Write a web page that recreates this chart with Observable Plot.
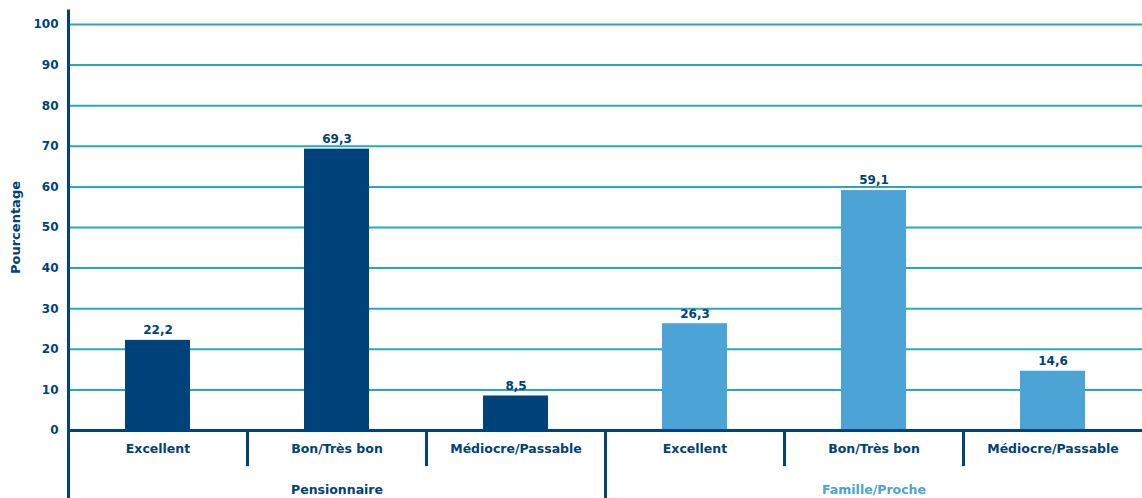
<!DOCTYPE html>
<html>
<head>
<meta charset="utf-8">
<script src="https://cdn.jsdelivr.net/npm/d3@7"></script>
<script src="https://cdn.jsdelivr.net/npm/@observablehq/plot@0.6"></script>
<style>
  html, body { margin: 0; padding: 0; background: #fff; }
  #chart svg { display: block; }
</style>
</head>
<body>
<div id="chart"></div>
<script>
const groups = ["Pensionnaire", "Famille/Proche"];
const categories = ["Excellent", "Bon/Très bon", "Médiocre/Passable"];
const pensionnaireValues = [22.2, 69.3, 8.5];
const familleValues = [26.3, 59.1, 14.6];
const yTicks = [0, 10, 20, 30, 40, 50, 60, 70, 80, 90, 100];

const navy = "#00427a";
const light = "#4ba3d6";
const teal = "#27aab8";
const groupColors = [navy, light];

const seriesValues = [pensionnaireValues, familleValues];
const data = [];
groups.forEach((g, gi) => {
  categories.forEach((c, ci) => {
    const i = gi * categories.length + ci;
    data.push({group: g, gi, category: c, i, value: seriesValues[gi][ci]});
  });
});
const n = data.length;
const boundaries = d3.range(0, n + 1);
const innerSeps = boundaries.filter(b => b > 0 && b < n && b % categories.length !== 0);
const groupSeps = boundaries.filter(b => b > 0 && b < n && b % categories.length === 0);
const groupCenters = groups.map((g, gi) => ({group: g, gi, x: gi * categories.length + categories.length / 2}));

const font = "'DejaVu Sans', sans-serif";

const chart = Plot.plot({
  width: 1142,
  height: 498,
  marginLeft: 68,
  marginRight: 0,
  marginTop: 24,
  marginBottom: 68,
  style: {fontFamily: font, fontWeight: "bold", fontSize: "12px", color: navy, background: "#fff"},
  x: {domain: [0, n], axis: null},
  y: {domain: [0, 100], ticks: yTicks, label: null, axis: null},
  marks: [
    Plot.ruleY(yTicks.filter(t => t > 0), {stroke: teal, strokeWidth: 2}),
    Plot.rectY(data, {x1: "i", x2: d => d.i + 1, y: "value", fill: d => groupColors[d.gi], insetLeft: 57, insetRight: 57}),
    Plot.ruleY([0], {stroke: navy, strokeWidth: 3}),
    Plot.ruleX([0], {y1: 103.6, y2: -17, stroke: navy, strokeWidth: 3}),
    Plot.ruleX(groupSeps, {y1: 0, y2: -17, stroke: navy, strokeWidth: 3}),
    Plot.ruleX(innerSeps, {y1: 0, y2: -8.9, stroke: navy, strokeWidth: 3}),
    Plot.text(yTicks, {x: 0, y: d => d, text: d => String(d), textAnchor: "end", dx: -10, fill: navy, fontSize: 12, fontWeight: "bold"}),
    Plot.text(["Pourcentage"], {x: 0, y: 50, rotate: -90, dx: -53, fill: navy, fontSize: 13, fontWeight: "bold"}),
    Plot.text(data, {x: d => d.i + 0.5, y: "value", text: d => d.value.toFixed(1).replace(".", ","), dy: -10, fill: navy, fontSize: 12, fontWeight: "bold"}),
    Plot.text(data, {x: d => d.i + 0.5, y: 0, text: "category", dy: 18, fill: navy, fontSize: 12.5, fontWeight: "bold"}),
    Plot.text(groupCenters, {x: "x", y: 0, text: "group", dy: 59, fill: d => groupColors[d.gi], fontSize: 12.5, fontWeight: "bold"})
  ]
});
document.getElementById("chart").appendChild(chart);
</script>
</body>
</html>
